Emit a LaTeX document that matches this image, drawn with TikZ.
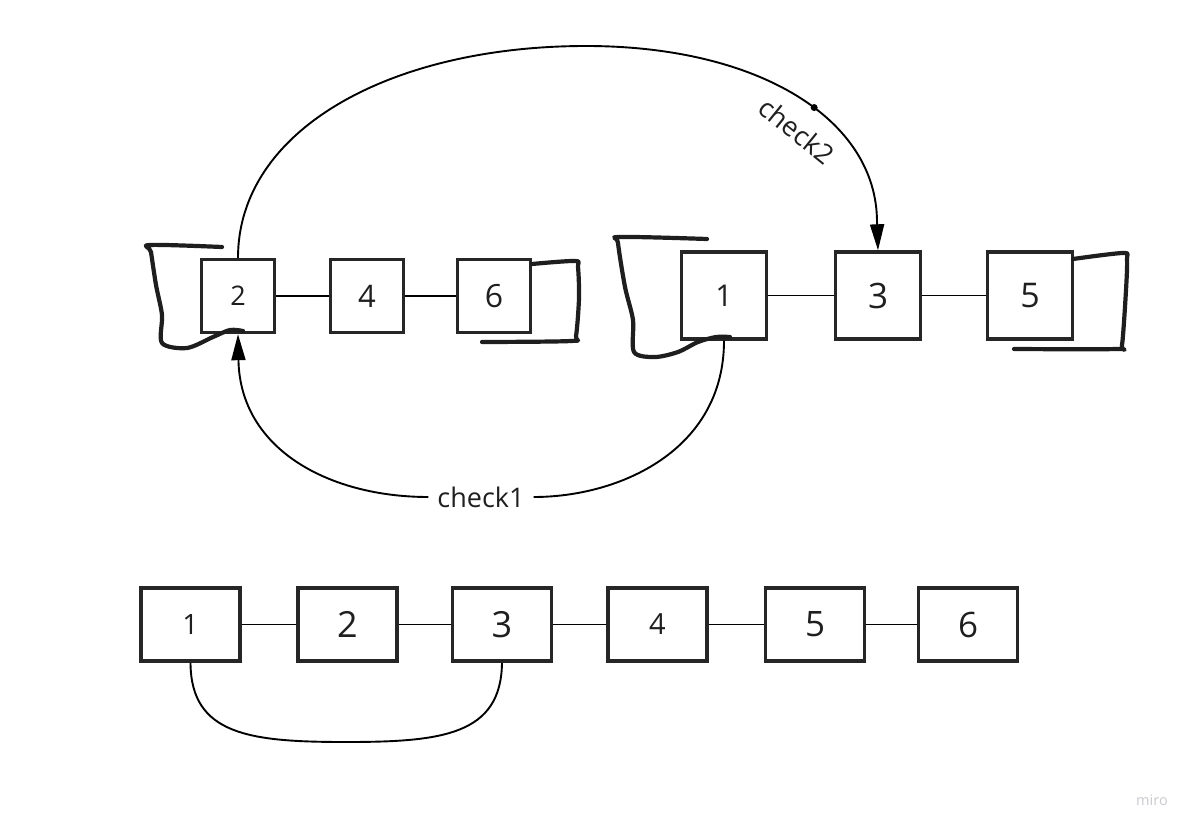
\documentclass[tikz,border=0pt]{standalone}
\usepackage{fontspec}
\setmainfont{Open Sans}
\usetikzlibrary{arrows.meta}
\definecolor{boxc}{HTML}{262626}
\definecolor{brk}{HTML}{1E1E1E}
\definecolor{txt}{HTML}{1F1F1F}
\definecolor{miroc}{HTML}{CBCBD0}
\begin{document}
\begin{tikzpicture}[x=1pt,y=-1pt,
  box/.style={draw=boxc, line width=3.4pt, fill=white, inner sep=0pt, text=txt},
  topl/.style={box, minimum width=73pt, minimum height=73pt},
  topr/.style={box, minimum width=85pt, minimum height=87pt},
  bot/.style={box, line width=3.8pt, minimum width=99pt, minimum height=73pt},
  fs/.style={font=\fontsize{#1}{#1}\selectfont},
  link/.style={draw=black, line width=1.6pt},
  arc/.style={draw=black, line width=1.9pt},
  bracket/.style={draw=brk, line width=4.2pt, line cap=round, line join=round},
  tip/.style={-{Triangle[length=26pt,width=14pt]}},
  lbl/.style={fs=27, text=txt, inner sep=0pt}
]
% canvas
\fill[white] (0,0) rectangle (1198,834);
\useasboundingbox (0,0) rectangle (1198,834);

% upper left list: 2 - 4 - 6
\node[topl, fs=27] (t2) at (238,296) {2};
\node[topl, fs=31] (t4) at (367,296) {4};
\node[topl, fs=32] (t6) at (494,296) {6};
\draw[link] (t2) -- (t4);
\draw[link] (t4) -- (t6);

% upper right list: 1 - 3 - 5
\node[topr, fs=30] (r1) at (724,295.5) {1};
\node[topr, fs=35] (r3) at (878,295.5) {3};
\node[topr, fs=34] (r5) at (1030,295.5) {5};
\draw[link] (r1) -- (r3);
\draw[link] (r3) -- (r5);

% merged list
\node[bot, fs=28] (b1) at (190.5,624.5) {1};
\node[bot, fs=36] (b2) at (347.5,624.5) {2};
\node[bot, fs=36] (b3) at (502,624.5) {3};
\node[bot, fs=29] (b4) at (657.5,624.5) {4};
\node[bot, fs=35] (b5) at (815,624.5) {5};
\node[bot, fs=35] (b6) at (968,624.5) {6};
\draw[link] (b1) -- (b2);
\draw[link] (b2) -- (b3);
\draw[link] (b3) -- (b4);
\draw[link] (b4) -- (b5);
\draw[link] (b5) -- (b6);

% hand-drawn brackets around each upper list
\draw[bracket] plot[smooth, tension=0.5] coordinates {(222,247) (150,245) (151,252) (156,285) (162,315) (162,343) (187,348) (213,337) (230,330) (243,331)};
\draw[bracket] plot[smooth, tension=0.5] coordinates {(532,264) (575,261) (578,267) (579,298) (576,336) (571,341) (482,342)};
\draw[bracket] plot[smooth, tension=0.5] coordinates {(707,239) (620,237) (618,243) (625,287) (633,320) (634,352) (655,357) (678,352) (698,342) (716,337) (730,337)};
\draw[bracket] plot[smooth, tension=0.5] coordinates {(1073,259) (1123,253) (1127,259) (1126,290) (1122,345) (1117,349) (1014,349)};

% check2: from 2 over the top to 3
\coordinate (apex) at (586,46);
\coordinate (drop) at (877,222);
\draw[arc, tip] (t2.north) .. controls (238,130) and (390,46) .. (apex)
  .. controls (760,46) and (877,120) .. (drop)
  node[pos=0.56, circle, fill=black, inner sep=0pt, minimum size=7pt] (dot) {}
  -- (r3.north);
\node[lbl, rotate=-39] (c2) at (797,131) {check2};

% check1: from 1 under the lists back to 2
\node[lbl, inner xsep=9pt] (c1) at (481,497) {check1};
\draw[arc] (r1.south) .. controls (724,450) and (620,497) .. (c1.east);
\draw[arc, tip] (c1.west) .. controls (330,497) and (240,450) .. (t2.south);

% link from 1 to 3 in the merged list
\coordinate (low) at (346,742);
\draw[arc] (b1.south) .. controls (191,735) and (250,742) .. (low)
  .. controls (442,742) and (501,735) .. (b3.south);

% board watermark
\node[text=miroc, font=\fontsize{14.5}{15}\selectfont] (logo) at (1152,800) {miro};
\end{tikzpicture}
\end{document}
